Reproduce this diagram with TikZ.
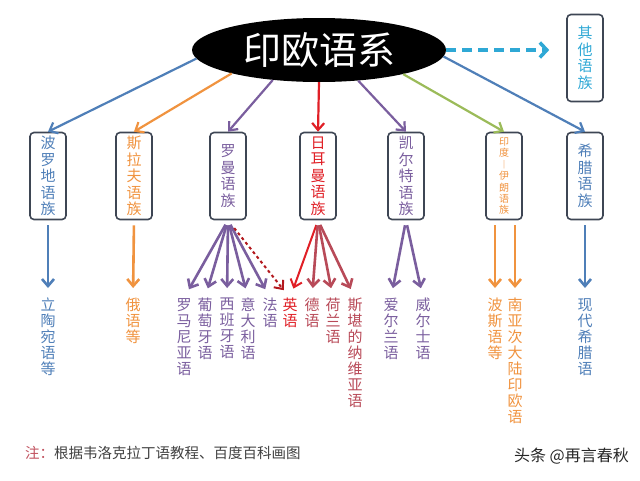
\documentclass[tikz,border=0pt]{standalone}
\usepackage{fontspec}
\setmainfont{Noto Sans CJK SC}
\usetikzlibrary{arrows.meta,shapes.geometric}
\definecolor{cblue}{HTML}{4F7FB8}
\definecolor{corange}{HTML}{F0933F}
\definecolor{cpurple}{HTML}{7A5E9E}
\definecolor{cred}{HTML}{E01F26}
\definecolor{cmaroon}{HTML}{B84A58}
\definecolor{cgreen}{HTML}{9BBB59}
\definecolor{ccyan}{HTML}{2FA8D5}
\definecolor{boxline}{HTML}{3E4654}
\definecolor{notered}{HTML}{C0505D}
\definecolor{notegray}{HTML}{404040}

\tikzstyle{fam} = [draw=boxline, line width=1.6pt, rounded corners=4pt, minimum width=36pt, minimum height=87pt, inner sep=0pt, align=center, font=\fontsize{15}{16.5}\selectfont]
\tikzstyle{lang} = [anchor=north, inner sep=0pt, align=center, font=\fontsize{15}{16}\selectfont]
\tikzstyle{link} = [line width=2.2pt, -{Straight Barb[length=7pt,width=12pt]}]
\tikzstyle{down} = [link, line width=2.6pt, shorten <=5pt, shorten >=10pt]

\begin{document}
\begin{tikzpicture}[x=1pt,y=-1pt]
\useasboundingbox (0,0) rectangle (640,480);
\node[ellipse, fill=black, minimum width=254pt, minimum height=64pt, inner sep=0pt, text=white, font=\fontsize{38}{40}\selectfont] (ie) at (319,50) {印欧语系};

\node[fam, text=ccyan] (other) at (585,58) {其\\他\\语\\族};
\node[fam, text=cblue] (balt) at (48,176) {波\\罗\\地\\语\\族};
\node[fam, text=corange] (slav) at (134,176) {斯\\拉\\夫\\语\\族};
\node[fam, text=cpurple] (rom) at (228,176) {罗\\曼\\语\\族};
\node[fam, text=cred] (germ) at (318,176) {日\\耳\\曼\\语\\族};
\node[fam, text=cpurple] (celt) at (406,176) {凯\\尔\\特\\语\\族};
\node[fam, text=corange, font=\fontsize{10}{11.4}\selectfont] (indir) at (504,176) {印\\度\\︱\\伊\\朗\\语\\族};
\node[fam, text=cblue] (greek) at (585,176) {希\\腊\\语\\族};

\draw[link, cblue] (ie.184) -- (balt.north);
\draw[link, corange] (ie.195) -- (slav.north);
\draw[link, cpurple] (ie.213) -- (rom.north);
\draw[link, cred] (ie.270) -- (germ.north);
\draw[link, cpurple] (ie.322) -- (celt.north);
\draw[link, cgreen] (ie.344) -- (indir.north);
\draw[link, cblue] (ie.357) -- (greek.north);
\draw[link, ccyan, line width=3.5pt, dash pattern=on 10pt off 6pt, -{Straight Barb[length=7pt,width=15pt]}] (ie.east) -- ++(103,0) coordinate (otherend);

\node[lang, text=cblue] (lit) at (48,298) {立\\陶\\宛\\语\\等};
\node[lang, text=corange] (rus) at (133,298) {俄\\语\\等};
\node[lang, text=cpurple] (roman) at (184,298) {罗\\马\\尼\\亚\\语};
\node[lang, text=cpurple] (port) at (205,298) {葡\\萄\\牙\\语};
\node[lang, text=cpurple] (span) at (227,298) {西\\班\\牙\\语};
\node[lang, text=cpurple] (ital) at (248,298) {意\\大\\利\\语};
\node[lang, text=cpurple] (fren) at (270,298) {法\\语};
\node[lang, text=cred] (engl) at (290,298) {英\\语};
\node[lang, text=cmaroon] (germn) at (312,298) {德\\语};
\node[lang, text=cmaroon] (dutch) at (333,298) {荷\\兰\\语};
\node[lang, text=cmaroon] (scan) at (355,298) {斯\\堪\\的\\纳\\维\\亚\\语};
\node[lang, text=cpurple] (iris) at (391,298) {爱\\尔\\兰\\语};
\node[lang, text=cpurple] (wels) at (423,298) {威\\尔\\士\\语};
\node[lang, text=corange] (pers) at (495,298) {波\\斯\\语\\等};
\node[lang, text=corange] (sasia) at (515,298) {南\\亚\\次\\大\\陆\\印\\欧\\语};
\node[lang, text=cblue] (mgreek) at (585,298) {现\\代\\希\\腊\\语};

\draw[down, cblue] (balt.south) -- (lit.north);
\draw[down, corange] (slav.south) -- (rus.north);
\foreach \t in {roman,port,span,ital,fren}
  \draw[down, cpurple] (rom.south) -- (\t.north);
\draw[down, cred!80!black, line width=2pt, dashed, shorten <=10pt] (rom.south) -- (engl.north);
\draw[down, cred, line width=2pt] (germ.south) -- (engl.north);
\foreach \t in {germn,dutch,scan}
  \draw[down, cmaroon] (germ.south) -- (\t.north);
\foreach \t in {iris,wels}
  \draw[down, cpurple] (celt.south) -- (\t.north);
\draw[down, corange] (indir.south -| pers.north) -- (pers.north);
\draw[down, corange] (indir.south -| sasia.north) -- (sasia.north);
\draw[down, cblue] (greek.south) -- (mgreek.north);

\node[anchor=west, inner sep=0pt, text=notegray, font=\fontsize{14.5}{16}\selectfont] (note) at (25,453) {\textcolor{notered}{注：}根据韦洛克拉丁语教程、百度百科画图};
\node[anchor=east, inner sep=0pt, text=black!85, font=\fontsize{16}{18}\selectfont] (mark) at (629,456) {头条 @再言春秋};
\end{tikzpicture}
\end{document}
